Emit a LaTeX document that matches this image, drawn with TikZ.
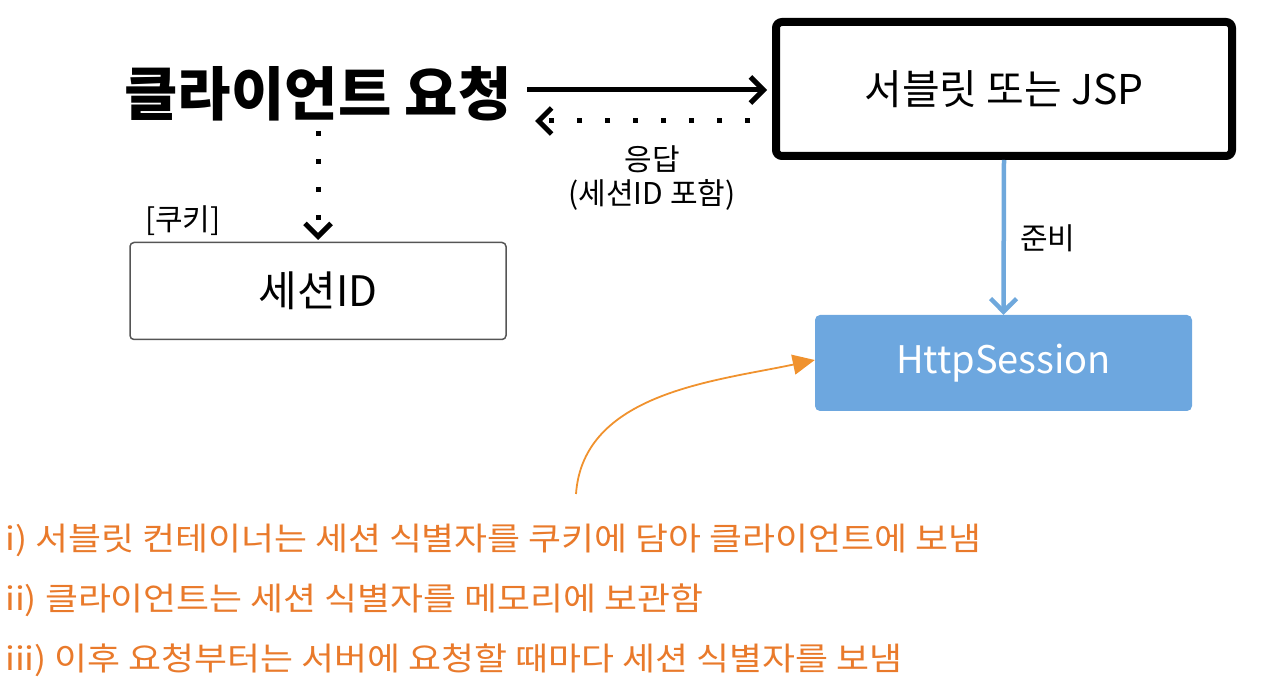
\documentclass[tikz,border=0pt]{standalone}
\usepackage{fontspec}
\setmainfont{Noto Sans CJK KR}
\newfontfamily\notefont[FakeStretch=1.12]{Noto Sans CJK KR}
\usetikzlibrary{arrows.meta}
\definecolor{boxblue}{HTML}{6DA7DF}
\definecolor{lineblue}{HTML}{6FA8DC}
\definecolor{noteorange}{HTML}{E97A2B}
\definecolor{arroworange}{HTML}{F0922E}
\definecolor{thingray}{HTML}{555555}
\tikzset{
  title/.style={font=\fontsize{58}{62}\selectfont\bfseries, inner sep=0pt},
  label/.style={font=\fontsize{30}{34}\selectfont, inner sep=0pt, align=center},
  servletbox/.style={draw=black, line width=8pt, rounded corners=6pt, minimum width=456pt, minimum height=134pt, font=\fontsize{41}{46}\selectfont},
  sessionbox/.style={draw=thingray, line width=1.5pt, rounded corners=4pt, minimum width=376pt, minimum height=97pt, font=\fontsize{42}{46}\selectfont},
  httpbox/.style={fill=boxblue, rounded corners=5pt, minimum width=377pt, minimum height=96pt, text=white, font=\fontsize{38}{42}\selectfont},
  chev/.style={-{Straight Barb[length=13pt,width=26pt]}},
  solidarrow/.style={chev, line width=5pt},
  dotarrow/.style={chev, line width=5pt, dash pattern=on 5pt off 23pt},
  bluearrow/.style={-{Straight Barb[length=13pt,width=26pt]}, draw=lineblue, line width=4.5pt},
  orangearrow/.style={-{Triangle[length=22pt,width=20pt,fill=arroworange]}, draw=arroworange, line width=1.8pt},
  note/.style={anchor=west, inner sep=0pt, text=noteorange, font=\notefont\fontsize{32}{36}\selectfont},
}
\begin{document}
\begin{tikzpicture}[x=1pt,y=-1pt]
\useasboundingbox (0,0) rectangle (1264,700);
\node[title] (client) at (318,94) {클라이언트 요청};
\node[servletbox] (servlet) at (1004,89) {서블릿 또는 JSP};
\node[sessionbox] (sid) at (318,291) {세션ID};
\node[httpbox] (http) at (1003.5,363) {HttpSession};
\node[label, anchor=south west] (cookie) at (145,236) {[쿠키]};
\node[label] (resp) at (652,178) {응답\\(세션ID 포함)};
\node[label, anchor=west] (ready) at (1020,238) {준비};
\coordinate (reqs) at (527,90);
\coordinate (reqe) at (767,90);
\coordinate (rs) at (750,121);
\coordinate (re) at (535,121);
\coordinate (ds) at (318,131);
\coordinate (de) at (318,240);
\draw[solidarrow] (reqs) -- (reqe);
\draw[dotarrow] (rs) -- (re);
\draw[dotarrow] (ds) -- (de);
\draw[bluearrow] (servlet.south) -- (http.north);
\coordinate (cs) at (576,494);
\draw[orangearrow] (cs) to[out=86,in=192,looseness=0.95] (http.west |- 0,360);
\node[note] (n1) at (5,540) {i) 서블릿 컨테이너는 세션 식별자를 쿠키에 담아 클라이언트에 보냄};
\node[note] (n2) at (5,600) {ii) 클라이언트는 세션 식별자를 메모리에 보관함};
\node[note] (n3) at (5,660) {iii) 이후 요청부터는 서버에 요청할 때마다 세션 식별자를 보냄};
\end{tikzpicture}
\end{document}
